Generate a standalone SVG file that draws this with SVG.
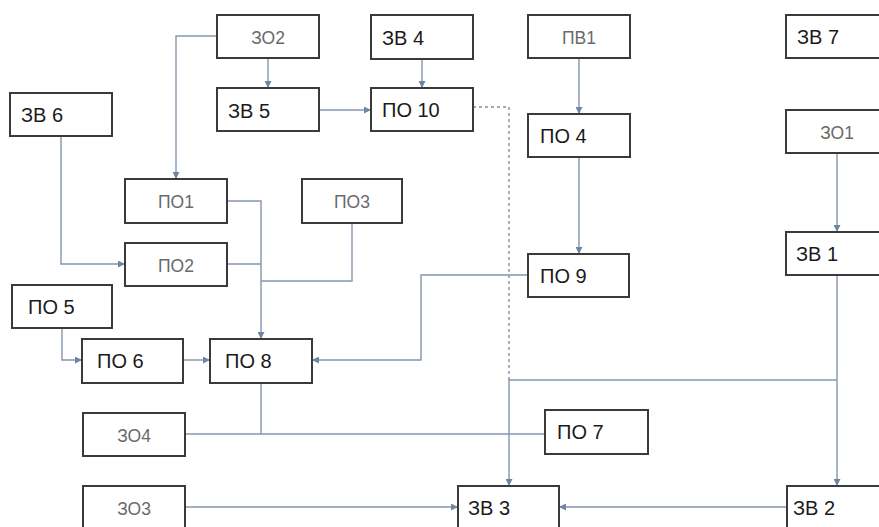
<svg xmlns="http://www.w3.org/2000/svg" width="879" height="527" viewBox="0 0 879 527">
<style>
.box{fill:#fff;stroke:#3a3a3a;stroke-width:2}
.d{font-family:"Liberation Sans",Arial,sans-serif;font-size:20px;fill:#1a1a1a}
.l{font-family:"Liberation Sans",Arial,sans-serif;font-size:17.5px;fill:#6a6a6a;text-anchor:middle}
.c{fill:none;stroke:#8496ad;stroke-width:1.4}
.a{marker-end:url(#ar)}
.dash{stroke-dasharray:3 3;stroke:#8a8f96}
</style>
<defs>
<marker id="ar" viewBox="0 0 10 10" refX="10" refY="5" markerWidth="7" markerHeight="7" markerUnits="userSpaceOnUse" orient="auto">
<path d="M0,0 L10,5 L0,10 z" fill="#6f86a3"/>
</marker>
</defs>
<rect width="879" height="527" fill="#fff"/>
<g id="connectors">
<path class="c a" d="M217,36 H176 V179"/>
<path class="c a" d="M268,58 V88"/>
<path class="c a" d="M319,110 H371"/>
<path class="c a" d="M422,59 V88"/>
<path class="c dash" d="M473,107 H509 V380"/>
<path class="c a" d="M579,58 V114"/>
<path class="c a" d="M579,157 V254"/>
<path class="c a" d="M528,275 H421 V360 H312"/>
<path class="c a" d="M837,153 V232"/>
<path class="c a" d="M837,275 V486"/>
<path class="c a" d="M837,380 H509 V486"/>
<path class="c a" d="M787,507 H559"/>
<path class="c a" d="M185,507 H458"/>
<path class="c a" d="M61,136 V264 H125"/>
<path class="c a" d="M227,201 H261 V339"/>
<path class="c" d="M227,264 H261"/>
<path class="c" d="M352,223 V281 H261"/>
<path class="c a" d="M62,328 V360 H82"/>
<path class="c a" d="M183,360 H210"/>
<path class="c" d="M261,383 V434"/>
<path class="c" d="M185,434 H545"/>
</g>
<g id="n-zo2"><rect class="box" x="217" y="15" width="102" height="43"/><text class="l" x="268" y="44">ЗО2</text></g>
<g id="n-zv5"><rect class="box" x="217" y="88" width="102" height="43"/><text class="d" x="228" y="118">ЗВ 5</text></g>
<g id="n-zv6"><rect class="box" x="10" y="93" width="102" height="43"/><text class="d" x="21" y="122">ЗВ 6</text></g>
<g id="n-zv4"><rect class="box" x="371" y="15" width="102" height="44"/><text class="d" x="382" y="45">ЗВ 4</text></g>
<g id="n-po10"><rect class="box" x="371" y="88" width="102" height="43"/><text class="d" x="382" y="117">ПО 10</text></g>
<g id="n-pv1"><rect class="box" x="528" y="15" width="102" height="43"/><text class="l" x="579" y="44">ПВ1</text></g>
<g id="n-po4"><rect class="box" x="528" y="114" width="102" height="43"/><text class="d" x="540" y="143">ПО 4</text></g>
<g id="n-zv7"><rect class="box" x="786" y="15" width="102" height="43"/><text class="d" x="797" y="44">ЗВ 7</text></g>
<g id="n-zo1"><rect class="box" x="786" y="110" width="102" height="43"/><text class="l" x="837" y="139">ЗО1</text></g>
<g id="n-zv1"><rect class="box" x="786" y="232" width="102" height="43"/><text class="d" x="796" y="261">ЗВ 1</text></g>
<g id="n-po1"><rect class="box" x="125" y="179" width="102" height="44"/><text class="l" x="176" y="208">ПО1</text></g>
<g id="n-po3"><rect class="box" x="302" y="179" width="100" height="44"/><text class="l" x="352" y="208">ПО3</text></g>
<g id="n-po2"><rect class="box" x="125" y="243" width="102" height="43"/><text class="l" x="176" y="272">ПО2</text></g>
<g id="n-po5"><rect class="box" x="12" y="285" width="100" height="43"/><text class="d" x="28" y="314">ПО 5</text></g>
<g id="n-po9"><rect class="box" x="528" y="254" width="101" height="43"/><text class="d" x="540" y="283">ПО 9</text></g>
<g id="n-po6"><rect class="box" x="82" y="339" width="101" height="44"/><text class="d" x="97" y="368">ПО 6</text></g>
<g id="n-po8"><rect class="box" x="210" y="339" width="102" height="44"/><text class="d" x="225" y="368">ПО 8</text></g>
<g id="n-zo4"><rect class="box" x="83" y="413" width="102" height="43"/><text class="l" x="134" y="442">ЗО4</text></g>
<g id="n-po7"><rect class="box" x="545" y="410" width="103" height="44"/><text class="d" x="557" y="439">ПО 7</text></g>
<g id="n-zo3"><rect class="box" x="83" y="486" width="102" height="44"/><text class="l" x="134" y="515">ЗО3</text></g>
<g id="n-zv3"><rect class="box" x="458" y="486" width="101" height="44"/><text class="d" x="468" y="515">ЗВ 3</text></g>
<g id="n-zv2"><rect class="box" x="787" y="486" width="102" height="44"/><text class="d" x="793" y="515">ЗВ 2</text></g>
</svg>
